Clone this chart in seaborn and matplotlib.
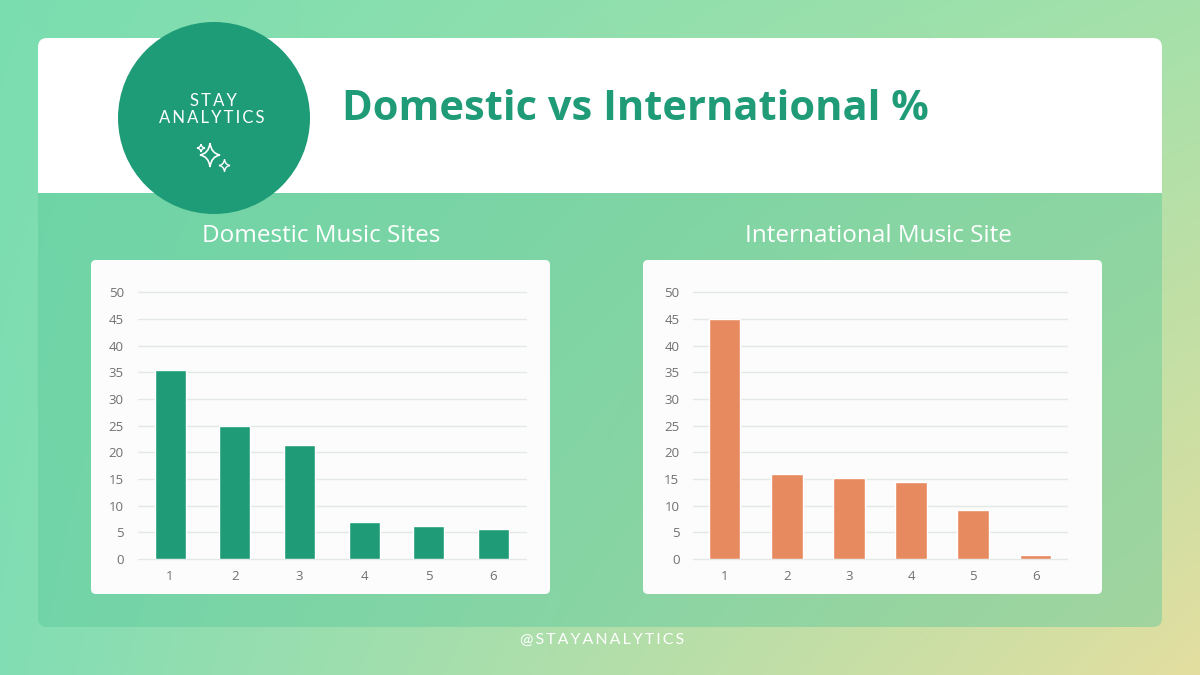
import numpy as np
import matplotlib
matplotlib.use("Agg")
import matplotlib.pyplot as plt
import seaborn as sns
from matplotlib.patches import FancyBboxPatch, Rectangle, Circle, PathPatch
from matplotlib.path import Path

# ---------------- data ----------------
categories = ["1", "2", "3", "4", "5", "6"]
domestic_values = [35.4, 25.0, 21.3, 7.0, 6.25, 5.6]
international_values = [45.0, 15.9, 15.2, 14.5, 9.2, 0.8]
y_ticks = [0, 5, 10, 15, 20, 25, 30, 35, 40, 45, 50]

title_text = "Domestic vs International %"
left_title = "Domestic Music Sites"
right_title = "International Music Site"
footer_text = "@STAYANALYTICS"

GREEN = "#1f9b77"
ORANGE = "#e88a5f"

sns.set_style("white")
plt.rcParams["font.family"] = ["Open Sans", "DejaVu Sans"]

W, H = 1200, 675
fig = plt.figure(figsize=(12, 6.75), dpi=100)

# background axes in pixel coords
bg = fig.add_axes([0, 0, 1, 1])
bg.set_xlim(0, W)
bg.set_ylim(H, 0)
bg.axis("off")

# gradient background
yy, xx = np.mgrid[0:H:4, 0:W:4]
c_tl = np.array([122, 221, 176]) / 255
c_tr = np.array([165, 225, 170]) / 255
c_bl = np.array([130, 222, 180]) / 255
c_br = np.array([228, 222, 160]) / 255
fx = (xx / W)[..., None]
fy = (yy / H)[..., None]
img = (c_tl * (1 - fx) * (1 - fy) + c_tr * fx * (1 - fy)
       + c_bl * (1 - fx) * fy + c_br * fx * fy)
bg.imshow(img, extent=[0, W, H, 0], aspect="auto", zorder=0)

# card lower (green translucent overlay)
bg.add_patch(FancyBboxPatch((38, 38), 1124, 589,
                            boxstyle="round,pad=0,rounding_size=9",
                            fc="#5cca9c", ec="none", alpha=0.45, zorder=1))
# card upper white
bg.add_patch(FancyBboxPatch((38, 38), 1124, 155,
                            boxstyle="round,pad=0,rounding_size=9",
                            fc="white", ec="none", zorder=2))
bg.add_patch(Rectangle((38, 170), 1124, 23, fc="white", ec="none", zorder=2))

# logo circle
bg.add_patch(Circle((214, 118), 96, fc="#1e9b77", ec="none", zorder=3))
TS = "\u2009"
bg.text(213, 101, TS.join("STAY"), color="white", fontsize=12,
        ha="center", va="center", zorder=4, family=["Lato", "DejaVu Sans"])
bg.text(212, 118, TS.join("ANALYTICS"), color="white", fontsize=12,
        ha="center", va="center", zorder=4, family=["Lato", "DejaVu Sans"])


def sparkle(cx, cy, rx, ry, lw=1.2):
    k = 0.12
    verts = [(cx, cy - ry),
             (cx + rx * k, cy - ry * k), (cx + rx, cy),
             (cx + rx * k, cy + ry * k), (cx, cy + ry),
             (cx - rx * k, cy + ry * k), (cx - rx, cy),
             (cx - rx * k, cy - ry * k), (cx, cy - ry)]
    codes = [Path.MOVETO] + [Path.CURVE3] * 8
    bg.add_patch(PathPatch(Path(verts, codes), fc="none", ec="white",
                           lw=lw, zorder=4))


sparkle(210, 155, 10, 12)
sparkle(201, 148, 4, 4, lw=1.0)
sparkle(224.5, 165.5, 5.5, 6, lw=1.0)

# main title
bg.text(342, 109, title_text, color="#1f9b77", fontsize=30, fontweight="bold",
        ha="left", va="center", zorder=4)

# sub titles
bg.text(321, 236, left_title, color="white", fontsize=17.5, ha="center",
        va="center", zorder=4)
bg.text(878, 236, right_title, color="white", fontsize=17.5, ha="center",
        va="center", zorder=4)

# footer
bg.text(602, 640, TS.join(footer_text), color="white", fontsize=11.5,
        ha="center", va="center", zorder=4, family=["Lato", "DejaVu Sans"])

# chart panels
for x0 in (91, 643):
    bg.add_patch(FancyBboxPatch((x0, 260), 459, 334,
                                boxstyle="round,pad=0,rounding_size=5",
                                fc="#fbfcfb", ec="none", zorder=3))


def make_axes(left, right, bottom=559, top=292.3):
    return fig.add_axes([left / W, (H - bottom) / H, (right - left) / W,
                         (bottom - top) / H])


def style(ax):
    ax.set_facecolor("none")
    ax.set_ylim(0, 50)
    ax.set_xlim(-0.5, 5.5)
    ax.set_yticks(y_ticks)
    ax.set_yticklabels([str(v) for v in y_ticks])
    ax.grid(axis="y", color="#e4e8e6", lw=1.0, zorder=0)
    ax.set_axisbelow(True)
    for s in ax.spines.values():
        s.set_visible(False)
    ax.tick_params(axis="both", length=0, labelsize=9.5, labelcolor="#707070")
    ax.tick_params(axis="y", pad=10)
    ax.tick_params(axis="x", pad=8)
    ax.set_xlabel("")
    ax.set_ylabel("")
    for gl in ax.get_ygridlines():
        gl.set_clip_on(False)


ax1 = make_axes(137.7, 525.7)
sns.barplot(x=categories, y=domestic_values, color=GREEN, saturation=1,
            width=0.48, errorbar=None, ax=ax1, zorder=3)
style(ax1)

ax2 = make_axes(693.3, 1066.7)
sns.barplot(x=categories, y=international_values, color=ORANGE, saturation=1,
            width=0.51, errorbar=None, ax=ax2, zorder=3)
style(ax2)

fig.savefig("out.png", dpi=100)
